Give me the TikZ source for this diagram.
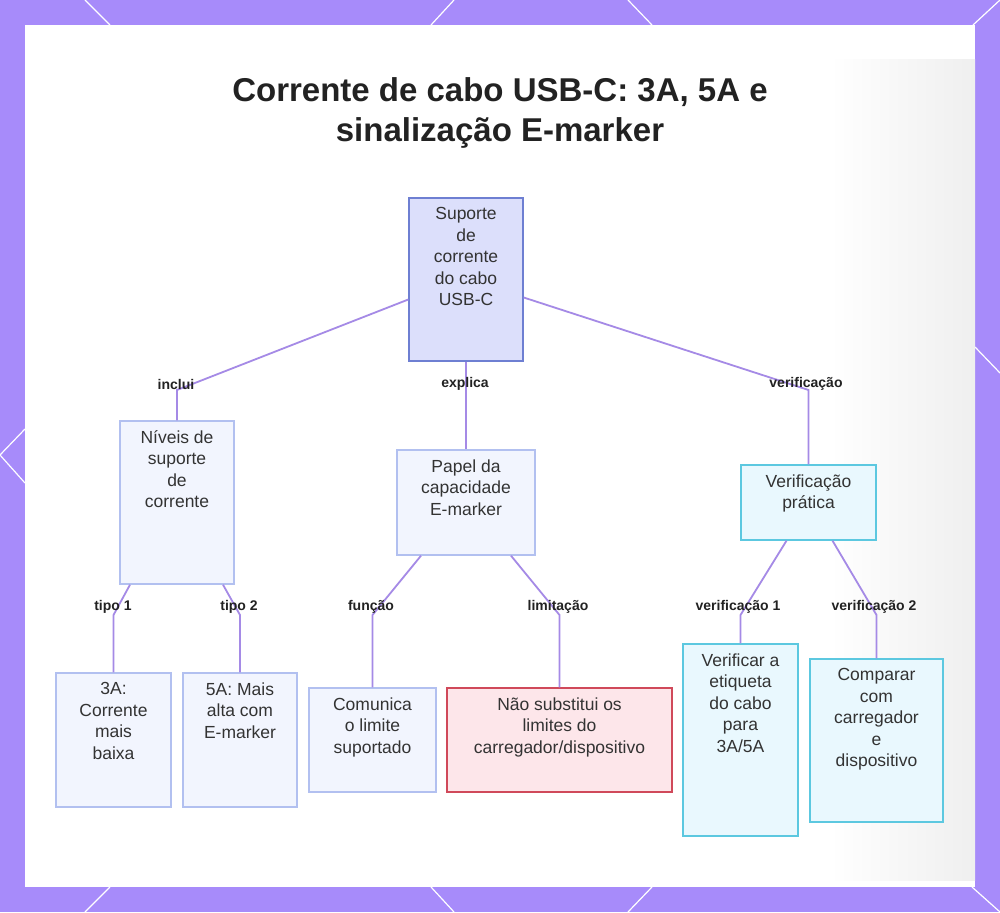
\documentclass[tikz,border=0pt]{standalone}
\usepackage{fontspec}
\setmainfont{Liberation Sans}
\usetikzlibrary{calc}
\definecolor{frame}{HTML}{A78BFA}
\definecolor{edgec}{HTML}{A58AE6}
\definecolor{rootfill}{HTML}{DCDFFB}
\definecolor{rootdraw}{HTML}{6E7FD2}
\definecolor{lightfill}{HTML}{F2F5FE}
\definecolor{lightdraw}{HTML}{B2C0F0}
\definecolor{cyanfill}{HTML}{E9F8FE}
\definecolor{cyandraw}{HTML}{5CC8E0}
\definecolor{redfill}{HTML}{FDE6EA}
\definecolor{reddraw}{HTML}{D0495A}
\definecolor{txt}{HTML}{333333}
\definecolor{lbl}{HTML}{222222}
\definecolor{bggray}{HTML}{EFEFEF}
\tikzset{
  box/.style={rectangle, inner sep=0pt, line width=1.4pt},
  rootbox/.style={box, fill=rootfill, draw=rootdraw},
  lightbox/.style={box, fill=lightfill, draw=lightdraw},
  cyanbox/.style={box, fill=cyanfill, draw=cyandraw},
  redbox/.style={box, fill=redfill, draw=reddraw},
  boxtext/.style={anchor=north, inner sep=0pt, align=center, text=txt,
     font=\fontsize{17.5}{21.5}\selectfont},
  edge/.style={draw=edgec, line width=1.8pt},
  elabel/.style={inner sep=0pt, text=lbl, font=\fontsize{14}{16}\selectfont\bfseries},
  deco/.style={draw=white, line width=1.2pt}
}
\begin{document}
\begin{tikzpicture}[x=1pt,y=-1pt]
\useasboundingbox (0,0) rectangle (1000,912);
% frame
\fill[frame] (0,0) rectangle (1000,912);
\draw[deco] (85,0) -- (110,25);
\draw[deco] (454,0) -- (431,25);
\draw[deco] (628,0) -- (652,25);
\draw[deco] (1000,0) -- (973,25);
\draw[deco] (110,887) -- (85,912);
\draw[deco] (431,887) -- (454,912);
\draw[deco] (652,887) -- (628,912);
\draw[deco] (972,887) -- (1000,912);
\draw[deco] (25,429) -- (0,455) -- (25,483);
\draw[deco] (975,347) -- (1000,373);
\fill[white] (25,25) rectangle (975,887);
\shade[left color=white, right color=bggray] (830,60) rectangle (975,880);
% title
\node[align=center, text=lbl, font=\fontsize{33}{40}\selectfont\bfseries] (title) at (500,113)
  {Corrente de cabo USB-C: 3A, 5A e\\sinalização E-marker};
% boxes
\node[rootbox, minimum width=114pt, minimum height=163pt] (root) at (466,279.5) {};
\node[lightbox, minimum width=114pt, minimum height=163pt] (niv) at (177,502.5) {};
\node[lightbox, minimum width=138pt, minimum height=105pt] (pap) at (466,502.5) {};
\node[cyanbox, minimum width=135pt, minimum height=75pt] (ver) at (808.5,502.5) {};
\node[lightbox, minimum width=115pt, minimum height=134pt] (a3) at (113.5,740) {};
\node[lightbox, minimum width=114pt, minimum height=134pt] (a5) at (240,740) {};
\node[lightbox, minimum width=127pt, minimum height=104pt] (com) at (372.5,740) {};
\node[redbox, minimum width=225pt, minimum height=104pt] (nao) at (559.5,740) {};
\node[cyanbox, minimum width=115pt, minimum height=192pt] (vrf) at (740.5,740) {};
\node[cyanbox, minimum width=133pt, minimum height=163pt] (cmp) at (876.5,740.5) {};
% box texts
\node[boxtext] (troot) at ([yshift=-10pt]root.north) {Suporte\\de\\corrente\\do cabo\\USB-C};
\node[boxtext] (tniv) at ([yshift=-10pt]niv.north) {Níveis de\\suporte\\de\\corrente};
\node[boxtext] (tpap) at ([yshift=-10pt]pap.north) {Papel da\\capacidade\\E-marker};
\node[boxtext] (tver) at ([yshift=-10pt]ver.north) {Verificação\\prática};
\node[boxtext] (ta3) at ([yshift=-10pt]a3.north) {3A:\\Corrente\\mais\\baixa};
\node[boxtext] (ta5) at ([yshift=-10pt]a5.north) {5A: Mais\\alta com\\E-marker};
\node[boxtext] (tcom) at ([yshift=-10pt]com.north) {Comunica\\o limite\\suportado};
\node[boxtext] (tnao) at ([yshift=-10pt]nao.north) {Não substitui os\\limites do\\carregador/dispositivo};
\node[boxtext] (tvrf) at ([yshift=-10pt]vrf.north) {Verificar a\\etiqueta\\do cabo\\para\\3A/5A};
\node[boxtext] (tcmp) at ([yshift=-10pt]cmp.north) {Comparar\\com\\carregador\\e\\dispositivo};
% bend coordinates
\coordinate (b1) at (177,390);
\coordinate (b3) at (808.5,390);
\coordinate (b4) at (113.5,615);
\coordinate (b5) at (240,615);
\coordinate (b6) at (372.5,615);
\coordinate (b7) at (559.5,615);
\coordinate (b8) at (740.5,615);
\coordinate (b9) at (876.5,615);
% edges
\draw[edge] ([yshift=-20pt]root.west) -- (b1) -- (niv.north);
\draw[edge] (root.south) -- (pap.north);
\draw[edge] ([yshift=-18pt]root.east) -- (b3) -- (ver.north);
\draw[edge] ([xshift=-47pt]niv.south) -- (b4) -- (a3.north);
\draw[edge] ([xshift=46pt]niv.south) -- (b5) -- (a5.north);
\draw[edge] ([xshift=-45pt]pap.south) -- (b6) -- (com.north);
\draw[edge] ([xshift=45pt]pap.south) -- (b7) -- (nao.north);
\draw[edge] ([xshift=-22pt]ver.south) -- (b8) -- (vrf.north);
\draw[edge] ([xshift=24pt]ver.south) -- (b9) -- (cmp.north);
% edge labels
\node[elabel] (l1) at (176,384) {inclui};
\node[elabel] (l2) at (465,384) {explica};
\node[elabel] (l3) at (806,384) {verificação};
\node[elabel] (l4) at (113,607) {tipo 1};
\node[elabel] (l5) at (239,607) {tipo 2};
\node[elabel] (l6) at (371,607) {função};
\node[elabel] (l7) at (558,607) {limitação};
\node[elabel] (l8) at (738,607) {verificação 1};
\node[elabel] (l9) at (874,607) {verificação 2};
\end{tikzpicture}
\end{document}
